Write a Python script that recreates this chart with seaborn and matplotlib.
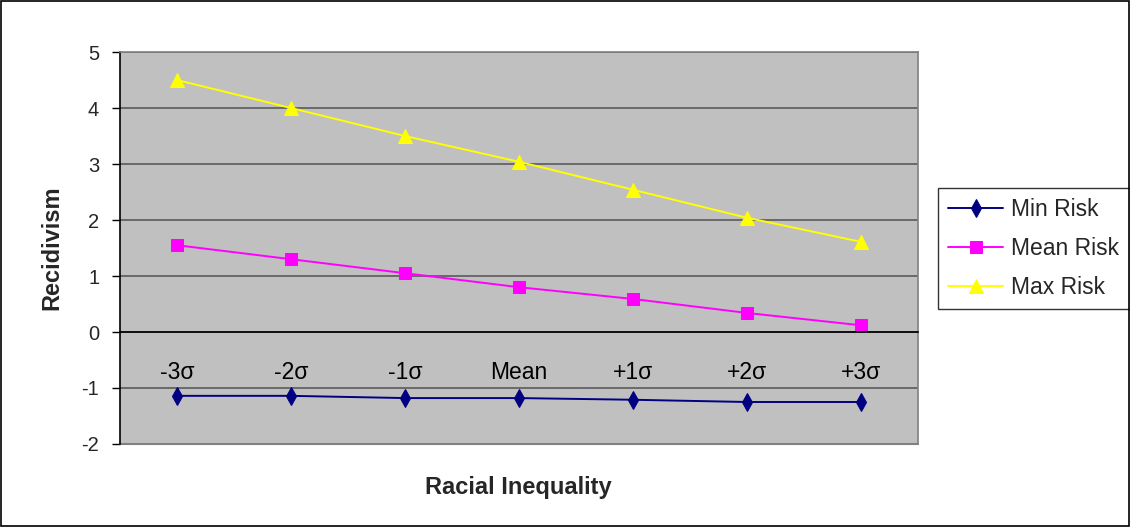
import matplotlib
matplotlib.use("Agg")
import matplotlib.pyplot as plt
from matplotlib.patches import Rectangle
from matplotlib.ticker import FixedLocator
import seaborn as sns
import pandas as pd

categories = ["-3σ", "-2σ", "-1σ", "Mean", "+1σ", "+2σ", "+3σ"]
min_risk = [-1.14, -1.14, -1.18, -1.18, -1.21, -1.25, -1.25]
mean_risk = [1.55, 1.30, 1.05, 0.80, 0.59, 0.34, 0.12]
max_risk = [4.50, 4.00, 3.50, 3.04, 2.54, 2.04, 1.61]
series_names = ["Min Risk", "Mean Risk", "Max Risk"]

df = pd.DataFrame({
    "Racial Inequality": categories * 3,
    "Recidivism": min_risk + mean_risk + max_risk,
    "Series": [s for s in series_names for _ in categories],
})

sns.set_style("white")
plt.rcParams["font.family"] = ["Liberation Sans", "DejaVu Sans"]
plt.rcParams["axes.unicode_minus"] = False

fig = plt.figure(figsize=(11.30, 5.27), dpi=100)
ax = fig.add_axes([0.1062, 0.1575, 0.7062, 0.7438])

palette = {"Min Risk": "#000080", "Mean Risk": "#FF00FF", "Max Risk": "#FFFF00"}
markers = {"Min Risk": "d", "Mean Risk": "s", "Max Risk": "^"}
sizes = {"Min Risk": 9, "Mean Risk": 8, "Max Risk": 10}

for name in series_names:
    sub = df[df["Series"] == name]
    sns.lineplot(data=sub, x="Racial Inequality", y="Recidivism", ax=ax,
                 color=palette[name], marker=markers[name],
                 markersize=sizes[name], markeredgecolor=palette[name],
                 linewidth=1.4, label=name, sort=False)

ax.set_facecolor("#C0C0C0")
ax.set_xlim(-0.5, len(categories) - 0.5)
ax.set_ylim(-2, 5)
ax.set_yticks(range(-2, 6))
ax.grid(axis="y", color="#5a5a5a", linewidth=1.2)
ax.grid(axis="x", visible=False)
ax.set_axisbelow(True)

# x axis crosses at zero, with boundary tick marks between categories
ax.spines["bottom"].set_position(("data", 0))
ax.spines["bottom"].set_color("#000000")
ax.spines["bottom"].set_linewidth(1.2)
ax.spines["left"].set_color("#000000")
ax.spines["left"].set_linewidth(1.2)
for side in ("top", "right"):
    ax.spines[side].set_color("#808080")
    ax.spines[side].set_linewidth(1.2)
    ax.spines[side].set_visible(True)

ax.xaxis.set_minor_locator(FixedLocator([i + 0.5 for i in range(-1, len(categories))]))
ax.tick_params(axis="x", which="major", length=0, pad=21, labelsize=16.5, colors="#000000")
ax.tick_params(axis="x", which="minor", length=6, width=1, color="#000000", direction="out")
ax.tick_params(axis="y", which="major", length=6, width=1, color="#000000",
               direction="out", labelsize=14.5, pad=9, left=True)

# frame line along the bottom of the plotting area
ax.axhline(-2, color="#808080", linewidth=1.5, clip_on=False)

ax.set_xlabel("")
ax.set_ylabel("")
fig.text(0.459, 0.075, "Racial Inequality", ha="center", va="center",
         fontsize=17, fontweight="bold")
fig.text(0.046, 0.53, "Recidivism", ha="center", va="center",
         rotation=90, fontsize=17, fontweight="bold")

leg = ax.legend(loc="upper left", bbox_to_anchor=(0.830, 0.643),
                bbox_transform=fig.transFigure, frameon=True, fancybox=False,
                fontsize=16.5, handlelength=2.4, handletextpad=0.35,
                labelspacing=0.68, borderpad=0.45, borderaxespad=0)
leg.get_frame().set_edgecolor("#000000")
leg.get_frame().set_linewidth(1.0)

fig.patches.append(Rectangle((0.0008, 0.001), 0.9984, 0.997, transform=fig.transFigure,
                             fill=False, edgecolor="#000000", linewidth=1.2))

fig.savefig("out.png", dpi=100)
